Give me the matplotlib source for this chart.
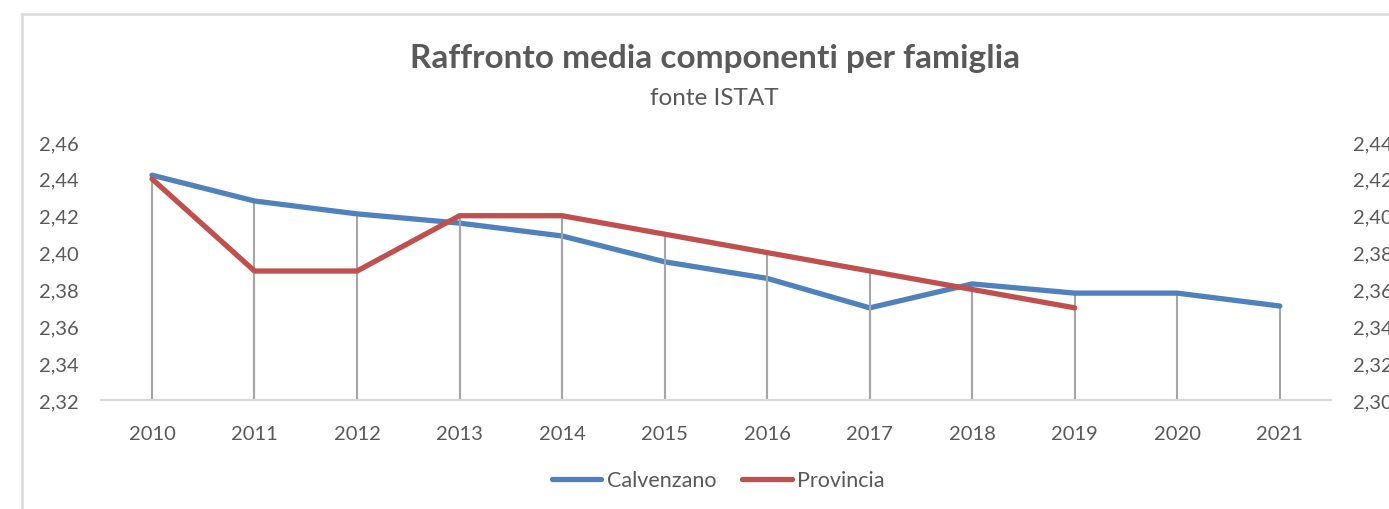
import matplotlib
matplotlib.use("Agg")
import matplotlib.pyplot as plt
from matplotlib.lines import Line2D
from matplotlib.ticker import FuncFormatter

years = ["2010", "2011", "2012", "2013", "2014", "2015",
         "2016", "2017", "2018", "2019", "2020", "2021"]
calvenzano = [2.442, 2.428, 2.421, 2.416, 2.409, 2.395,
              2.386, 2.370, 2.383, 2.378, 2.378, 2.371]
provincia = [2.42, 2.37, 2.37, 2.40, 2.40, 2.39,
             2.38, 2.37, 2.36, 2.35]

left_ticks = [2.32, 2.34, 2.36, 2.38, 2.40, 2.42, 2.44, 2.46]
right_ticks = [2.30, 2.32, 2.34, 2.36, 2.38, 2.40, 2.42, 2.44]

BLUE = "#4f81bd"
RED = "#c0504d"
TEXT = "#595959"
DROP = "#a6a6a6"
AXIS = "#d9d9d9"
FONT = "Lato"

plt.rcParams["font.family"] = FONT

fig = plt.figure(figsize=(13.89, 5.10), dpi=100)
ax = fig.add_axes([0.0725, 0.2137, 0.8858, 0.5059])
ax2 = ax.twinx()

x_c = list(range(len(calvenzano)))
x_p = list(range(len(provincia)))

# drop lines from the category axis up to each point
ax.vlines(x_c, left_ticks[0], calvenzano, color=DROP, lw=1.5, zorder=1)
ax2.vlines(x_p, right_ticks[0], provincia, color=DROP, lw=1.5, zorder=1)

ax.plot(x_c, calvenzano, color=BLUE, lw=3.8, solid_capstyle="round",
        solid_joinstyle="round", zorder=3)
ax2.plot(x_p, provincia, color=RED, lw=3.8, solid_capstyle="round",
         solid_joinstyle="round", zorder=3)

ax.set_xlim(-0.5, len(years) - 0.5)
ax.set_ylim(left_ticks[0], left_ticks[-1])
ax2.set_ylim(right_ticks[0], right_ticks[-1])
ax.set_yticks(left_ticks)
ax2.set_yticks(right_ticks)
comma = FuncFormatter(lambda v, p: f"{v:.2f}".replace(".", ","))
ax.yaxis.set_major_formatter(comma)
ax2.yaxis.set_major_formatter(comma)
ax.set_xticks(x_c)
ax.set_xticklabels(years)

for a in (ax, ax2):
    for s in ("top", "left", "right"):
        a.spines[s].set_visible(False)
    a.spines["bottom"].set_color(AXIS)
    a.spines["bottom"].set_linewidth(1.5)
    a.tick_params(axis="both", length=0, labelsize=14.5, labelcolor=TEXT)
ax.tick_params(axis="y", pad=16)
ax2.tick_params(axis="y", pad=16)
ax.tick_params(axis="x", pad=18)
ax2.set_zorder(ax.get_zorder() + 1)
ax2.patch.set_visible(False)

fig.text(0.515, 0.886, "Raffronto media componenti per famiglia",
         ha="center", va="center", fontsize=24, fontweight="bold", color=TEXT)
fig.text(0.514, 0.807, "fonte ISTAT", ha="center", va="center",
         fontsize=17.5, color=TEXT)

handles = [Line2D([], [], color=BLUE, lw=3.8, solid_capstyle="round"),
           Line2D([], [], color=RED, lw=3.8, solid_capstyle="round")]
fig.legend(handles, ["Calvenzano", "Provincia"], loc="center",
           bbox_to_anchor=(0.517, 0.056), ncol=2, frameon=False,
           fontsize=15.5, labelcolor=TEXT, handlelength=2.3,
           handletextpad=0.25, columnspacing=1.2)

# chart area frame
fig.add_artist(Line2D([22 / 1389, 22 / 1389], [0, 1 - 15 / 510],
                      color=AXIS, lw=1.8, transform=fig.transFigure))
fig.add_artist(Line2D([22 / 1389, 1], [1 - 15 / 510, 1 - 15 / 510],
                      color=AXIS, lw=1.8, transform=fig.transFigure))

fig.savefig("out.png", dpi=100)
